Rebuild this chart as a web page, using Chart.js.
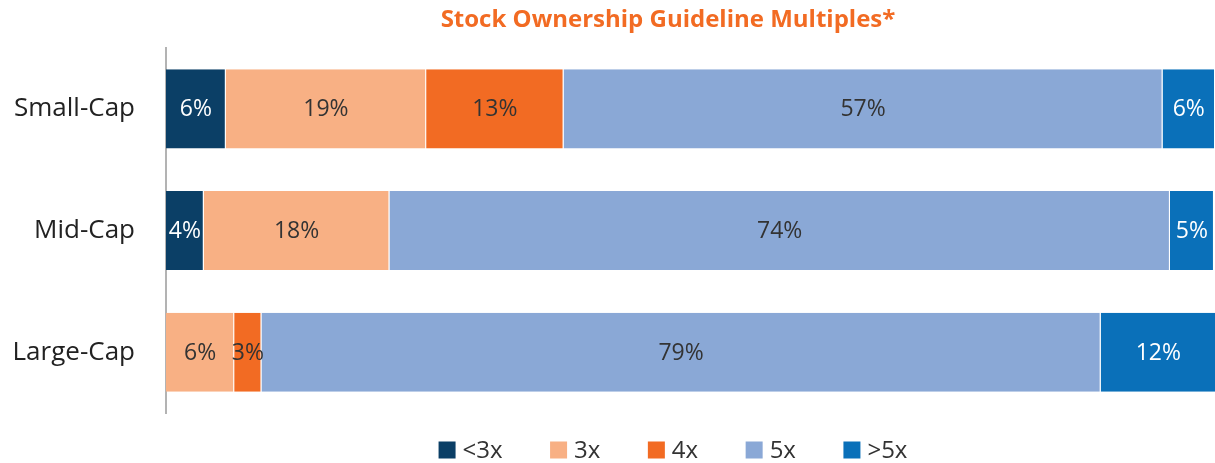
<!DOCTYPE html>
<html>
<head>
<meta charset="utf-8">
<script src="https://cdn.jsdelivr.net/npm/chart.js@4.4.0/dist/chart.umd.min.js"></script>
<style>
  html, body { margin: 0; padding: 0; background: #fff; }
  #wrap { width: 1215px; height: 463px; position: relative; }
</style>
</head>
<body>
<div id="wrap"><canvas id="ownershipChart"></canvas></div>
<script>
// Stock Ownership Guideline Multiples

const categories = ['Small-Cap', 'Mid-Cap', 'Large-Cap'];
const seriesNames = ['<3x', '3x', '4x', '5x', '>5x'];

// bar widths (share of each row, %)
const lessThan3x = [5.7, 3.6, 0];
const multiple3x = [19.1, 17.7, 6.5];
const multiple4x = [13.1, 0, 2.6];
const multiple5x = [57.1, 74.4, 80.0];
const moreThan5x = [5.0, 4.2, 11.0];

// printed labels
const lessThan3xText = ['6%', '4%', ''];
const multiple3xText = ['19%', '18%', '6%'];
const multiple4xText = ['13%', '', '3%'];
const multiple5xText = ['57%', '74%', '79%'];
const moreThan5xText = ['6%', '5%', '12%'];

const colors = ['#0b3f66', '#f8b084', '#f26b23', '#8aa8d6', '#0a70b9'];
const labelColors = ['#ffffff', '#333333', '#333333', '#333333', '#ffffff'];
const FONT = '"Open Sans", sans-serif';

const values = [lessThan3x, multiple3x, multiple4x, multiple5x, moreThan5x];
const texts = [lessThan3xText, multiple3xText, multiple4xText, multiple5xText, moreThan5xText];

const segmentLabels = {
    id: 'segmentLabels',
    afterDatasetsDraw(chart) {
        const ctx = chart.ctx;
        ctx.save();
        ctx.font = '23px ' + FONT;
        ctx.textAlign = 'center';
        ctx.textBaseline = 'middle';
        chart.data.datasets.forEach((ds, i) => {
            chart.getDatasetMeta(i).data.forEach((bar, j) => {
                const t = texts[i][j];
                if (!t) return;
                const cx = (bar.x + bar.base) / 2;
                ctx.fillStyle = labelColors[i];
                ctx.fillText(t, cx, bar.y + 1);
            });
        });
        ctx.restore();
    }
};

const titleAndLegend = {
    id: 'titleAndLegend',
    afterDraw(chart) {
        const ctx = chart.ctx;
        ctx.save();
        // title
        ctx.font = 'bold 24px ' + FONT;
        ctx.fillStyle = '#f26b23';
        ctx.textAlign = 'center';
        ctx.textBaseline = 'middle';
        ctx.fillText('Stock Ownership Guideline Multiples*', 668, 20);

        // legend
        const box = 17, gapText = 7, gapItem = 47.5;
        ctx.font = '24px ' + FONT;
        const widths = seriesNames.map(n => box + gapText + ctx.measureText(n).width);
        const total = widths.reduce((a, b) => a + b, 0) + gapItem * (widths.length - 1);
        let x = 673 - total / 2;
        const y = 450;
        ctx.textAlign = 'left';
        seriesNames.forEach((n, i) => {
            ctx.fillStyle = colors[i];
            ctx.fillRect(x, y - box / 2, box, box);
            ctx.fillStyle = '#333333';
            ctx.fillText(n, x + box + gapText, y + 1);
            x += widths[i] + gapItem;
        });
        ctx.restore();
    }
};

new Chart(document.getElementById('ownershipChart'), {
    type: 'bar',
    data: {
        labels: categories,
        datasets: seriesNames.map((name, i) => ({
            label: name,
            data: values[i],
            backgroundColor: colors[i],
            borderColor: 'rgba(255,255,255,0.7)',
            borderWidth: { left: 0, right: 1, top: 0, bottom: 0 },
            borderSkipped: false,
            categoryPercentage: 1,
            barPercentage: 0.65
        }))
    },
    options: {
        indexAxis: 'y',
        responsive: true,
        maintainAspectRatio: false,
        animation: false,
        layout: { padding: { top: 48, bottom: 50, left: 0, right: 0 } },
        plugins: {
            legend: { display: false },
            title: { display: false },
            tooltip: { enabled: false }
        },
        scales: {
            x: {
                stacked: true,
                display: false,
                min: 0,
                max: 100
            },
            y: {
                stacked: true,
                afterFit: scale => { scale.width = 166; },
                grid: { display: false, drawTicks: false },
                border: { display: true, color: '#b3b3b3', width: 2 },
                ticks: {
                    color: '#222222',
                    padding: 31,
                    font: { family: FONT, size: 26 }
                }
            }
        }
    },
    plugins: [segmentLabels, titleAndLegend]
});
</script>
</body>
</html>
